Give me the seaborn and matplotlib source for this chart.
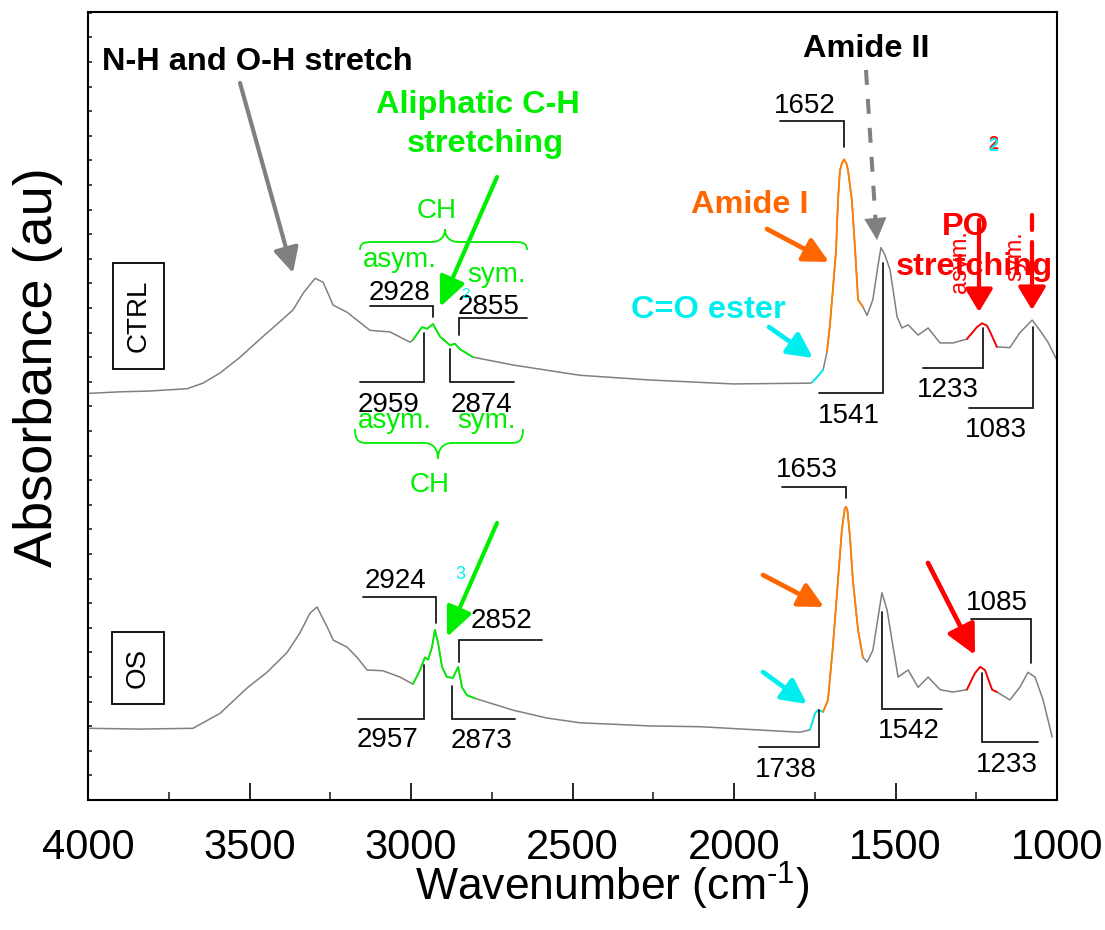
import matplotlib
matplotlib.use("Agg")
import matplotlib.pyplot as plt
import seaborn as sns
import pandas as pd
from matplotlib.path import Path
from matplotlib.patches import PathPatch, Rectangle
from matplotlib.ticker import MultipleLocator, NullFormatter

# ---------------- data ----------------
ctrl_wavenumber = [4000, 3901, 3808, 3693, 3644, 3591, 3529, 3467, 3406, 3365, 3334, 3297,
                   3272, 3241, 3198, 3127, 3065, 3003, 2994, 2966, 2950, 2932, 2910, 2879,
                   2864, 2848, 2808, 2684, 2477, 2260, 2003, 1765, 1758, 1740, 1724, 1712,
                   1703, 1694, 1684, 1678, 1672, 1666, 1659, 1652, 1647, 1635, 1625, 1616,
                   1601, 1588, 1570, 1554, 1545, 1533, 1517, 1495, 1480, 1461, 1430, 1399,
                   1362, 1322, 1279, 1248, 1232, 1217, 1207, 1186, 1146, 1115, 1077, 1053,
                   1028, 1000]
ctrl_absorbance = [0.516, 0.518, 0.519, 0.522, 0.529, 0.542, 0.562, 0.585, 0.607, 0.622, 0.643, 0.662,
                   0.657, 0.628, 0.619, 0.596, 0.594, 0.581, 0.584, 0.600, 0.598, 0.604, 0.588, 0.577,
                   0.579, 0.572, 0.562, 0.552, 0.539, 0.533, 0.528, 0.529, 0.530, 0.538, 0.546, 0.569,
                   0.603, 0.647, 0.698, 0.761, 0.799, 0.808, 0.813, 0.808, 0.799, 0.761, 0.698, 0.635,
                   0.626, 0.615, 0.635, 0.679, 0.701, 0.692, 0.673, 0.613, 0.599, 0.603, 0.590, 0.599,
                   0.580, 0.580, 0.585, 0.600, 0.605, 0.602, 0.594, 0.575, 0.574, 0.593, 0.609, 0.596,
                   0.581, 0.558]

os_wavenumber = [4000, 3839, 3675, 3644, 3591, 3508, 3446, 3384, 3344, 3313, 3291, 3260,
                 3241, 3198, 3167, 3136, 3087, 3034, 2994, 2972, 2957, 2947, 2935, 2926,
                 2916, 2904, 2889, 2870, 2854, 2842, 2827, 2802, 2684, 2579, 2477, 2260,
                 2105, 1796, 1765, 1749, 1740, 1724, 1709, 1694, 1678, 1666, 1657, 1653,
                 1649, 1641, 1632, 1616, 1601, 1588, 1570, 1542, 1526, 1511, 1492, 1461,
                 1430, 1399, 1362, 1322, 1279, 1254, 1238, 1223, 1201, 1186, 1146, 1115,
                 1090, 1068, 1043, 1015]
os_absorbance = [0.091, 0.090, 0.091, 0.098, 0.110, 0.142, 0.162, 0.187, 0.212, 0.237, 0.245, 0.220,
                 0.203, 0.194, 0.181, 0.165, 0.164, 0.156, 0.147, 0.165, 0.181, 0.178, 0.194, 0.216,
                 0.199, 0.169, 0.156, 0.155, 0.169, 0.143, 0.133, 0.129, 0.114, 0.104, 0.098, 0.094,
                 0.093, 0.086, 0.089, 0.110, 0.114, 0.112, 0.127, 0.194, 0.279, 0.343, 0.370, 0.372,
                 0.368, 0.334, 0.279, 0.216, 0.181, 0.175, 0.190, 0.263, 0.241, 0.203, 0.156, 0.165,
                 0.143, 0.156, 0.140, 0.137, 0.140, 0.161, 0.169, 0.165, 0.140, 0.137, 0.127, 0.143,
                 0.162, 0.156, 0.127, 0.080]

# highlighted bands (low, high, colour)
ctrl_bands = [(2808, 2994, "#00EE00"), (1724, 1758, "#00EEEE"),
              (1601, 1712, "#FF8000"), (1186, 1279, "#FF0000")]
os_bands = [(2802, 2994, "#00EE00"), (1724, 1765, "#00EEEE"),
            (1601, 1724, "#FF8000"), (1186, 1279, "#FF0000")]

ctrl_peaks = ["2928", "2855", "2959", "2874", "1652", "1541", "1233", "1083"]
os_peaks = ["2924", "2852", "2957", "2873", "1653", "1738", "1542", "1085", "1233"]
x_ticks = [4000, 3500, 3000, 2500, 2000, 1500, 1000]

# ---------------- style ----------------
sns.set_theme(style="ticks")
plt.rcParams["font.family"] = ["Liberation Sans", "DejaVu Sans"]
plt.rcParams["mathtext.default"] = "regular"

W, H = 1105, 930
fig = plt.figure(figsize=(W / 100, H / 100), dpi=100)
L, R, T, B = 88, 1057, 12, 800
ax = fig.add_axes([L / W, (H - B) / H, (R - L) / W, (B - T) / H])


def A(px, py):
    return ((px - L) / (R - L), (B - py) / (B - T))


GRAY = "#808080"
GREEN = "#00EE00"
CYAN = "#00EEEE"
ORANGE_T = "#FF6600"
RED = "#FF0000"
INK = "#1a1a1a"

# ---------------- spectra ----------------
for wn, ab, bands in [(ctrl_wavenumber, ctrl_absorbance, ctrl_bands),
                      (os_wavenumber, os_absorbance, os_bands)]:
    df = pd.DataFrame({"wn": wn, "ab": ab})
    sns.lineplot(data=df, x="wn", y="ab", ax=ax, color=GRAY, lw=1.1, estimator=None)
    for lo, hi, c in bands:
        sub = df[(df.wn >= lo) & (df.wn <= hi)]
        sns.lineplot(data=sub, x="wn", y="ab", ax=ax, color=c, lw=1.3, estimator=None)

ax.set_xlim(4000, 1000)
ax.set_ylim(0, 1)
ax.set_xticks(x_ticks)
ax.set_xticklabels([str(t) for t in x_ticks])
ax.xaxis.set_minor_locator(MultipleLocator(250))
ax.yaxis.set_major_locator(MultipleLocator(24.6 / 788))
ax.yaxis.set_major_formatter(NullFormatter())
ax.tick_params(axis="x", which="major", direction="in", length=12, width=1.2,
               labelsize=30, pad=20, colors="black")
ax.tick_params(axis="x", which="minor", direction="in", length=6, width=1.2)
ax.tick_params(axis="y", which="major", direction="in", length=3, width=1.2)
ax.tick_params(top=False, right=False)
for s in ax.spines.values():
    s.set_linewidth(1.5)
    s.set_color("black")
    s.set_visible(True)

ax.set_xlabel("Wavenumber (cm$^{\u2010 1}$)", fontsize=32, color="black")
ax.xaxis.set_label_coords((612 - L) / (R - L), (B - 860) / (B - T))
ax.set_ylabel("Absorbance (au)", fontsize=39, color="black")
ax.yaxis.set_label_coords((63 - L) / (R - L), (B - 367) / (B - T))


# ---------------- annotation helpers ----------------
def txt(px, py, s, size=20, color="black", weight="normal", ha="center", va="baseline", rot=0):
    ax.text(*A(px, py), s, transform=ax.transAxes, fontsize=size, color=color,
            fontweight=weight, ha=ha, va=va, rotation=rot, zorder=6)


def leader(pts):
    xs, ys = zip(*[A(*p) for p in pts])
    ax.plot(xs, ys, transform=ax.transAxes, color=INK, lw=1.3, zorder=5,
            solid_joinstyle="miter")


def arrow(p0, p1, color, lw=3.0, hl=0.75, hw=0.38):
    ax.annotate("", xy=A(*p1), xytext=A(*p0), xycoords="axes fraction",
                textcoords="axes fraction",
                arrowprops=dict(arrowstyle=f"-|>,head_length={hl},head_width={hw}",
                                mutation_scale=20, lw=lw, color=color,
                                shrinkA=0, shrinkB=0), zorder=7)


def brace(x0, x1, xm, y_end, y_flat, y_tip, color):
    d = 14
    mid = y_flat + (y_tip - y_flat) * 0.45
    pts = [(x0, y_end),
           (x0, y_flat), (x0 + 6, y_flat), (x0 + d, y_flat),
           (xm - d, y_flat),
           (xm - 4, y_flat), (xm, mid), (xm, y_tip),
           (xm, mid), (xm + 4, y_flat), (xm + d, y_flat),
           (x1 - d, y_flat),
           (x1 - 6, y_flat), (x1, y_flat), (x1, y_end)]
    codes = [Path.MOVETO] + [Path.CURVE4] * 3 + [Path.LINETO] + [Path.CURVE4] * 6 + \
            [Path.LINETO] + [Path.CURVE4] * 3
    path = Path([A(*p) for p in pts], codes)
    ax.add_patch(PathPatch(path, fc="none", ec=color, lw=1.3, transform=ax.transAxes, zorder=6))


def label_box(x0, y0, x1, y1, s):
    ax.add_patch(Rectangle(A(x0, y1), (x1 - x0) / (R - L), (y1 - y0) / (B - T),
                           transform=ax.transAxes, fc="white", ec="black", lw=1.3, zorder=6))
    txt((x0 + x1) / 2, (y0 + y1) / 2, s, size=20, va="center", rot=90)


# ---------------- annotations ----------------
BOLD = 23.4
txt(102, 70, "N-H and O-H stretch", size=BOLD, weight="bold", ha="left")
arrow((240, 83), (293, 273), GRAY)

txt(478, 113, "Aliphatic C-H", size=BOLD, color=GREEN, weight="bold")
txt(485, 152, "stretching", size=BOLD, color=GREEN, weight="bold")
arrow((497, 177), (440, 307), GREEN, hl=0.9, hw=0.4)
arrow((497, 523), (447, 637), GREEN, hl=0.9, hw=0.4)

txt(866, 57, "Amide II", size=BOLD, weight="bold")
ax.plot(*zip(A(866, 70), A(875.5, 220)), transform=ax.transAxes, color=GRAY, lw=2.9,
        dashes=(3.7, 3.5), zorder=7)
arrow((875.6, 222), (877, 240), GRAY, lw=0.5)

txt(750, 213, "Amide I", size=BOLD, color=ORANGE_T, weight="bold")
arrow((767, 229), (829, 262), ORANGE_T, lw=3.4)
arrow((763, 575), (824, 607), ORANGE_T, lw=3.4)

txt(786, 318, "C=O ester", size=BOLD, color=CYAN, weight="bold", ha="right")
arrow((769, 327), (813, 358), CYAN, lw=3.4)
arrow((763, 672), (807, 704), CYAN, lw=3.4)

# PO2 stretching
txt(993, 149, "2", size=13, color=RED, weight="bold")
txt(993, 151, "2", size=13, color=CYAN, weight="bold")
txt(965, 235, "PO", size=BOLD, color=RED, weight="bold")
txt(974, 275, "stretching", size=BOLD, color=RED, weight="bold")
txt(960, 262, "asym.", size=17, color=RED, va="center", rot=90)
txt(1015, 256, "sym.", size=17, color=RED, va="center", rot=90)
arrow((979, 220), (979, 312), RED, lw=3.0, hl=0.7, hw=0.42)
ax.plot(*zip(A(1032, 215), A(1032, 230)), transform=ax.transAxes, color=RED, lw=3.0, zorder=7)
arrow((1032, 242), (1032, 310), RED, lw=3.0, hl=0.7, hw=0.42)
arrow((928, 563), (975, 655), RED, lw=3.4, hl=0.9, hw=0.45)

# CH braces
txt(437, 218, "CH", color=GREEN)
brace(360, 527, 445, 250, 242, 229, GREEN)
txt(400, 267, "asym.", color=GREEN)
txt(496, 282, "sym.", color=GREEN)
txt(395, 428, "asym.", color=GREEN)
txt(486, 428, "sym.", color=GREEN)
brace(355, 523, 438, 429, 443, 459, GREEN)
txt(430, 492, "CH", color=GREEN)

# sample labels
label_box(113, 263, 164, 369, "CTRL")
label_box(112, 632, 164, 704, "OS")

# peak labels + leader lines (CTRL)
ctrl_pos = [(399, 300), (489, 314), (389, 412), (481, 412),
            (805, 113), (849, 423), (948, 397), (996, 437)]
ctrl_lead = [[(370, 306), (433, 306), (433, 317)],
             [(459, 335), (459, 318), (527, 318)],
             [(424, 333), (424, 382), (360, 382)],
             [(450, 349), (450, 382), (514, 382)],
             [(780, 121), (844, 121), (844, 147)],
             [(883, 263), (883, 393), (819, 393)],
             [(983, 328), (983, 368), (923, 368)],
             [(1033, 327), (1033, 408), (969, 408)]]
for s, p, ld in zip(ctrl_peaks, ctrl_pos, ctrl_lead):
    txt(*p, s)
    leader(ld)
txt(466, 298, "2", size=11, color=CYAN)

os_pos = [(395, 588), (501, 628), (388, 747), (481, 748), (807, 477),
          (786, 777), (909, 738), (997, 610), (1007, 772)]
os_lead = [[(363, 597), (436, 597), (436, 623)],
           [(459, 662), (459, 640), (542, 640)],
           [(424, 665), (424, 719), (358, 719)],
           [(452, 686), (452, 719), (515, 719)],
           [(782, 487), (846, 487), (846, 498)],
           [(819, 710), (819, 747), (759, 747)],
           [(882, 612), (882, 709), (942, 709)],
           [(971, 619), (1031, 619), (1031, 663)],
           [(982, 673), (982, 742), (1038, 742)]]
for s, p, ld in zip(os_peaks, os_pos, os_lead):
    txt(*p, s)
    leader(ld)
txt(460, 579, "3", size=13, color=CYAN)

fig.savefig("out.png", dpi=100)
